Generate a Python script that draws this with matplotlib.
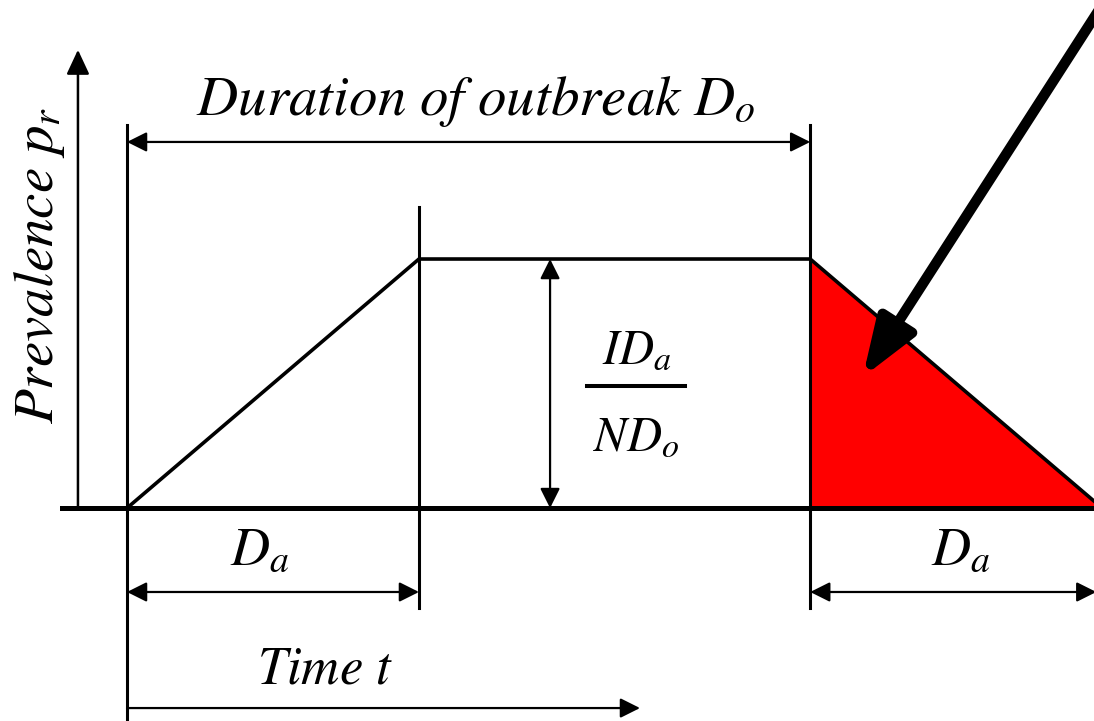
import matplotlib
matplotlib.use("Agg")
import matplotlib.pyplot as plt
from matplotlib.patches import FancyArrowPatch, Polygon

plt.rcParams['mathtext.fontset'] = 'stix'
plt.rcParams['font.family'] = 'STIXGeneral'

# --- data (time in units of D_a, prevalence normalised to plateau) ---
D_a = 1.0
D_o = 2.34
time_points = [0.0, D_a, D_o, D_o + D_a]
prevalence = [0.0, 1.0, 1.0, 0.0]
labels = {
    'duration': r'$Duration\ of\ outbreak\ D_o$',
    'ylabel': r'$Prevalence\ p_r$',
    'xlabel': r'$Time\ t$',
    'da': r'$D_a$',
    'num': r'$ID_a$',
    'den': r'$ND_o$',
}

W, H = 1094, 721
fig = plt.figure(figsize=(W / 100, H / 100), dpi=100)
ax = fig.add_axes([0, 0, 1, 1])
ax.set_xlim(-0.435, 3.312)
ax.set_ylim(-0.855, 2.040)
ax.axis('off')

def arrow(p0, p1, style, lw=1.6, ms=20, hl=0.6, hw=0.3):
    a = FancyArrowPatch(p0, p1, arrowstyle=f'{style},head_length={hl},head_width={hw}',
                        mutation_scale=ms, lw=lw, color='black',
                        shrinkA=0, shrinkB=0, zorder=5)
    ax.add_patch(a)

# red decay triangle
tri = Polygon([[time_points[2], prevalence[2]], [time_points[2], 0.0],
               [time_points[3], prevalence[3]]], closed=True,
              facecolor='#ff0000', edgecolor='none', zorder=1)
ax.add_patch(tri)

# trapezoid outline
ax.plot(time_points, prevalence, color='black', lw=2.6, zorder=3,
        solid_joinstyle='miter')

# baseline
ax.plot([-0.223, 3.4], [0, 0], color='black', lw=3.6, zorder=4)

# vertical guide lines
ax.plot([time_points[0]] * 2, [1.54, -0.9], color='black', lw=2.2, zorder=4)
ax.plot([time_points[1]] * 2, [1.21, -0.40], color='black', lw=2.2, zorder=4)
ax.plot([time_points[2]] * 2, [1.54, -0.40], color='black', lw=2.2, zorder=4)

# y-axis arrow
arrow((-0.168, 0.0), (-0.168, 1.84), '-|>', lw=1.8, ms=20, hl=0.75, hw=0.35)

# duration arrow
arrow((time_points[0], 1.47), (time_points[2], 1.47), '<|-|>', lw=1.6)
ax.text(1.195, 1.578, labels['duration'], fontsize=41, ha='center', va='baseline')

# height arrow
arrow((1.449, 0.0), (1.449, 1.0), '<|-|>', lw=1.6)
ax.text(1.745, 0.582, labels['num'], fontsize=35, ha='center', va='baseline')
ax.plot([1.575, 1.911], [0.49, 0.49], color='black', lw=2.9)
ax.text(1.745, 0.233, labels['den'], fontsize=35, ha='center', va='baseline')

# D_a arrows
arrow((time_points[0], -0.337), (time_points[1], -0.337), '<|-|>', lw=1.6)
ax.text(0.455, -0.229, labels['da'], fontsize=39, ha='center', va='baseline')
arrow((time_points[2], -0.337), (time_points[3] - 0.02, -0.337), '<|-|>', lw=1.6)
ax.text(2.856, -0.229, labels['da'], fontsize=39, ha='center', va='baseline')

# time arrow
arrow((time_points[0], -0.803), (1.757, -0.803), '-|>', lw=1.6)
ax.text(0.678, -0.703, labels['xlabel'], fontsize=38, ha='center', va='baseline')

# y label
ax.text(-0.30, 0.976, labels['ylabel'], fontsize=41, ha='center', va='center', rotation=90)

# big pointer arrow
arrow((3.34, 2.02), (2.52, 0.526), '-|>', lw=7.5, ms=14, hl=2.5, hw=0.9)

fig.savefig('out.png', dpi=100)
